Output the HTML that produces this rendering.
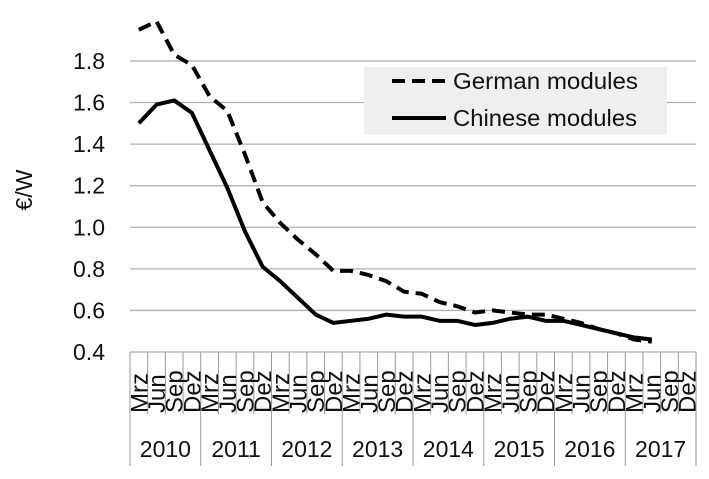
<!DOCTYPE html>
<html><head><meta charset="utf-8"><style>
body{margin:0;background:#fff}
svg text{font-family:"Liberation Sans",sans-serif;fill:#111}
</style></head><body>
<svg id="c" width="709" height="474"></svg>
<script>
const categories=["Mrz","Jun","Sep","Dez"];
const years=["2010","2011","2012","2013","2014","2015","2016","2017"];
const yTicks=[0.4,0.6,0.8,1.0,1.2,1.4,1.6,1.8];
const german=[1.95,1.99,1.83,1.78,1.63,1.56,1.35,1.12,1.02,0.94,0.87,0.79,0.79,0.77,0.74,0.69,0.68,0.64,0.62,0.59,0.60,0.59,0.58,0.58,0.56,0.54,0.51,0.49,0.46,0.45];
const chinese=[1.50,1.59,1.61,1.55,1.37,1.19,0.98,0.81,0.74,0.66,0.58,0.54,0.55,0.56,0.58,0.57,0.57,0.55,0.55,0.53,0.54,0.56,0.57,0.55,0.55,0.53,0.51,0.49,0.47,0.46];

const svg=document.getElementById('c');
const NS="http://www.w3.org/2000/svg";
const X0=130,X1=696,n=years.length*categories.length,cw=(X1-X0)/n;
const x=i=>X0+(i+0.5)*cw;
const y=v=>352-(v-0.4)*207.9;
function mk(t,a,p){const e=document.createElementNS(NS,t);for(const k in a)e.setAttribute(k,a[k]);(p||svg).appendChild(e);return e;}

yTicks.forEach(v=>{
  if(v>0.4){const g=mk('line',{x1:X0,x2:X1,y1:y(v),y2:y(v),stroke:'#b0b0b0','stroke-width':1.3});
  
  }
  const t=mk('text',{x:105,y:y(v)+8,'text-anchor':'end','font-size':23,fill:'#333'});t.textContent=v.toFixed(1);
  
  
});
const yt=mk('text',{transform:'translate(32,190) rotate(-90)','text-anchor':'middle','font-size':23});yt.textContent='€/W';



mk('line',{x1:X0,x2:X1,y1:352,y2:352,stroke:'#999','stroke-width':1});
for(let i=0;i<=n;i++){
  const xx=X0+i*cw,yr=i%4===0;
  mk('line',{x1:xx,x2:xx,y1:352,y2:yr?466:414,stroke:'#999','stroke-width':1});
}
for(let i=0;i<n;i++){
  const t=mk('text',{transform:`translate(${x(i)+8.5},413) rotate(-90)`,'font-size':24});
  t.textContent=categories[i%4];
  
  
}
years.forEach((yr,k)=>{
  const t=mk('text',{x:X0+(k*4+2)*cw,y:457,'text-anchor':'middle','font-size':23});t.textContent=yr;
  
  
});

function series(d,dash,name){
  const p=mk('polyline',{points:d.map((v,i)=>x(i)+','+y(v)).join(' '),fill:'none',stroke:'#000','stroke-width':4,'stroke-linejoin':'round'});
  if(dash)p.setAttribute('stroke-dasharray','13 7');
  
  
}
series(chinese,false,'chinese-modules-line');
series(german,true,'german-modules-line');

const lg=mk('g',{});


mk('rect',{x:364,y:67,width:303,height:68,fill:'#efefef'},lg);
mk('line',{x1:392,x2:446,y1:81,y2:81,stroke:'#000','stroke-width':4,'stroke-dasharray':'13 7'},lg);
mk('line',{x1:392,x2:446,y1:118,y2:118,stroke:'#000','stroke-width':4},lg);
const l1=mk('text',{x:453,y:89,'font-size':23,fill:'#222',textLength:185,lengthAdjust:'spacingAndGlyphs'},lg);l1.textContent='German modules';


const l2=mk('text',{x:453,y:126,'font-size':23,fill:'#222',textLength:184,lengthAdjust:'spacingAndGlyphs'},lg);l2.textContent='Chinese modules';


</script>
</body></html>
